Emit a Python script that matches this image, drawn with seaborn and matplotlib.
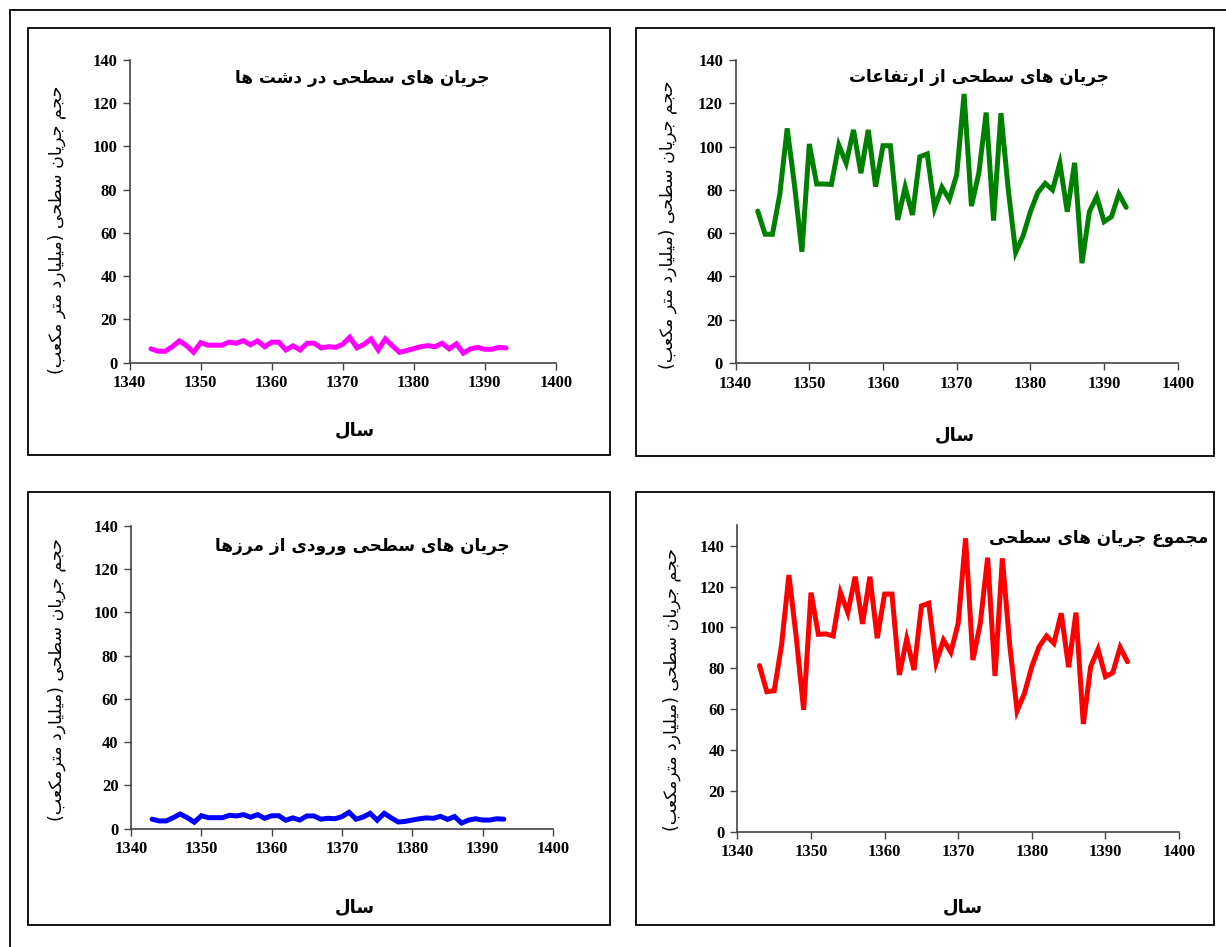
import matplotlib
matplotlib.use("Agg")
import matplotlib.pyplot as plt
from matplotlib.patches import Rectangle
import seaborn as sns
import pandas as pd

# ---------------- data ----------------
years = list(range(1343, 1394))
plain_flow = [6.4, 5.3, 5.3, 7.4, 10.1, 7.9, 4.8, 9.3, 8.1, 8.1,
              8.1, 9.5, 9.0, 10.2, 8.3, 10.1, 7.4, 9.5, 9.5, 5.9,
              7.8, 5.9, 9.0, 9.0, 6.8, 7.4, 7.1, 8.5, 11.8, 6.9,
              8.5, 11.0, 5.9, 11.0, 7.8, 4.8, 5.6, 6.5, 7.4, 7.9,
              7.4, 9.0, 6.4, 8.7, 4.4, 6.4, 7.1, 6.2, 6.2, 7.1, 6.8]
highland_flow = [70.2, 59.5, 59.5, 78.0, 108.4, 82.0, 51.4, 101.2, 82.7, 82.7,
                 82.5, 100.7, 92.3, 107.7, 87.7, 107.7, 81.5, 100.4, 100.4, 66.1,
                 81.2, 68.4, 95.3, 96.6, 71.5, 81.2, 75.6, 87.0, 124.3, 72.5,
                 87.7, 115.7, 65.8, 115.4, 80.0, 51.1, 58.7, 69.9, 78.7, 83.0,
                 80.0, 92.3, 69.9, 92.5, 46.1, 69.9, 76.9, 65.3, 67.6, 78.1, 71.9]
border_flow = [4.4, 3.6, 3.6, 5.1, 6.8, 5.1, 3.0, 6.0, 5.1, 5.1,
               5.1, 6.2, 5.9, 6.5, 5.3, 6.5, 4.8, 6.0, 6.0, 3.9,
               5.0, 4.0, 5.9, 5.9, 4.4, 4.8, 4.6, 5.6, 7.6, 4.4,
               5.4, 7.1, 3.9, 7.1, 5.0, 3.1, 3.4, 4.0, 4.6, 5.0,
               4.8, 5.7, 4.3, 5.6, 2.6, 4.0, 4.6, 4.0, 4.0, 4.6, 4.4]
total_flow = [81.3, 68.5, 69.0, 91.4, 125.6, 95.0, 59.6, 117.0, 96.6, 96.8,
              95.8, 117.0, 107.2, 124.8, 101.7, 124.8, 94.7, 116.3, 116.3, 76.7,
              94.3, 79.1, 110.5, 111.8, 82.7, 93.8, 87.8, 102.0, 143.6, 84.0,
              102.0, 134.1, 76.2, 133.8, 91.4, 59.1, 67.7, 80.8, 90.6, 95.8,
              92.2, 106.9, 80.5, 107.2, 52.7, 80.8, 89.3, 75.9, 77.8, 90.2, 83.2]

x_ticks = [1340, 1350, 1360, 1370, 1380, 1390, 1400]
y_ticks = [0, 20, 40, 60, 80, 100, 120, 140]

title_plain = "جریان های سطحی در دشت ها"
title_highland = "جریان های سطحی از ارتفاعات"
title_border = "جریان های سطحی ورودی از مرزها"
title_total = "مجموع جریان های سطحی"
ylabel_a = "حجم جریان سطحی (میلیارد متر مکعب)"
ylabel_b = "حجم جریان سطحی (میلیارد مترمکعب)"
xlabel = "سال"

# ---------------- minimal Arabic/Persian shaping ----------------
FORMS = {
    'ا': ('\uFE8D', '\uFE8E', None, None),
    'ب': ('\uFE8F', '\uFE90', '\uFE91', '\uFE92'),
    'ت': ('\uFE95', '\uFE96', '\uFE97', '\uFE98'),
    'ج': ('\uFE9D', '\uFE9E', '\uFE9F', '\uFEA0'),
    'ح': ('\uFEA1', '\uFEA2', '\uFEA3', '\uFEA4'),
    'د': ('\uFEA9', '\uFEAA', None, None),
    'ر': ('\uFEAD', '\uFEAE', None, None),
    'ز': ('\uFEAF', '\uFEB0', None, None),
    'س': ('\uFEB1', '\uFEB2', '\uFEB3', '\uFEB4'),
    'ش': ('\uFEB5', '\uFEB6', '\uFEB7', '\uFEB8'),
    'ط': ('\uFEC1', '\uFEC2', '\uFEC3', '\uFEC4'),
    'ع': ('\uFEC9', '\uFECA', '\uFECB', '\uFECC'),
    'ف': ('\uFED1', '\uFED2', '\uFED3', '\uFED4'),
    'ل': ('\uFEDD', '\uFEDE', '\uFEDF', '\uFEE0'),
    'م': ('\uFEE1', '\uFEE2', '\uFEE3', '\uFEE4'),
    'ن': ('\uFEE5', '\uFEE6', '\uFEE7', '\uFEE8'),
    'ه': ('\uFEE9', '\uFEEA', '\uFEEB', '\uFEEC'),
    'و': ('\uFEED', '\uFEEE', None, None),
    'ی': ('\uFBFC', '\uFBFD', '\uFBFE', '\uFBFF'),
    'ک': ('\uFB8E', '\uFB8F', '\uFB90', '\uFB91'),
}


def shape(s):
    chars = list(s)
    out = []

    def dual(c):
        return c in FORMS and FORMS[c][2] is not None

    for i, c in enumerate(chars):
        if c not in FORMS:
            out.append(c)
            continue
        prev = chars[i - 1] if i > 0 else ''
        nxt = chars[i + 1] if i + 1 < len(chars) else ''
        jp = dual(prev)
        jn = dual(c) and nxt in FORMS
        iso, fin, ini, med = FORMS[c]
        if jp and jn:
            out.append(med)
        elif jp:
            out.append(fin)
        elif jn:
            out.append(ini)
        else:
            out.append(iso)
    vis = ''.join(reversed(out))
    return vis.translate(str.maketrans('()', ')('))


# ---------------- figure ----------------
sns.set_theme(style="white")
plt.rcParams['font.family'] = ['DejaVu Sans']
plt.rcParams['text.color'] = 'black'
plt.rcParams['xtick.color'] = 'black'
plt.rcParams['ytick.color'] = 'black'

W, H = 1226, 947
fig = plt.figure(figsize=(W / 100, H / 100), dpi=100)
fig.patch.set_facecolor("white")


def fx(px):
    return px / W


def fy(py):
    return 1 - py / H


# outer frame (top and left visible) and panel boxes
fig.add_artist(Rectangle((fx(10), fy(1000)), fx(1300) - fx(10), fy(10) - fy(1000),
                         transform=fig.transFigure, fill=False, ec="black", lw=1.3))
for (x0, y0, x1, y1) in [(28, 28, 610, 455), (636, 28, 1214, 456),
                         (28, 492, 610, 925), (636, 492, 1214, 925)]:
    fig.add_artist(Rectangle((fx(x0), fy(y1)), fx(x1) - fx(x0), (y1 - y0) / H,
                             transform=fig.transFigure, fill=False, ec="black", lw=1.3))

panels = [
    (plain_flow, "#FF00FF", (129.7, 555.7, 362.7, 60.0), 140, title_plain, (362, 78), "center",
     ylabel_a, (57, 230), (355, 430)),
    (highland_flow, "#008000", (735.6, 1177.8, 363.0, 60.0), 140, title_highland, (979, 77), "center",
     ylabel_a, (668, 225), (955, 435)),
    (border_flow, "#0000FF", (131.0, 553.0, 828.7, 526.0), 140, title_border, (362, 546), "center",
     ylabel_b, (57, 680), (355, 907)),
    (total_flow, "#FF0000", (737.4, 1179.0, 831.7, 525.2), 150, title_total, (1208, 538), "right",
     ylabel_b, (672, 690), (963, 907)),
]

for vals, color, (l, r, b, t), ymax, title, tpos, tha, ylab, ypos, xpos in panels:
    ax = fig.add_axes([fx(l), fy(b), fx(r) - fx(l), (b - t) / H])
    df = pd.DataFrame({"year": years, "value": vals})
    sns.lineplot(data=df, x="year", y="value", ax=ax, color=color, lw=3.6,
                 solid_joinstyle="miter")
    ax.set_xlim(1340, 1400)
    ax.set_ylim(0, ymax)
    ax.set_xticks(x_ticks)
    ax.set_yticks(y_ticks)
    ax.set_xlabel("")
    ax.set_ylabel("")
    for side in ("top", "right"):
        ax.spines[side].set_visible(False)
    for side in ("left", "bottom"):
        ax.spines[side].set_color("#444444")
        ax.spines[side].set_linewidth(1.2)
    ax.tick_params(axis="both", direction="out", length=5, width=1.0, color="#444444",
                   labelcolor="black", left=True, bottom=True, pad=4)
    ax.set_facecolor("none")
    for lab in ax.get_xticklabels() + ax.get_yticklabels():
        lab.set_fontfamily("Liberation Serif")
        lab.set_fontweight("bold")
        lab.set_fontsize(12)
    fig.text(fx(tpos[0]), fy(tpos[1]), shape(title), ha=tha, va="center",
             fontsize=12.2, fontweight="bold", color="black", family=["DejaVu Sans"])
    fig.text(fx(ypos[0]), fy(ypos[1]), shape(ylab), ha="center", va="center",
             rotation=90, fontsize=12.5, color="black", family=["DejaVu Sans"])
    fig.text(fx(xpos[0]), fy(xpos[1]), shape(xlabel), ha="center", va="center",
             fontsize=13, fontweight="bold", color="black", family=["DejaVu Sans"])

fig.savefig("out.png", dpi=100, facecolor="white")
